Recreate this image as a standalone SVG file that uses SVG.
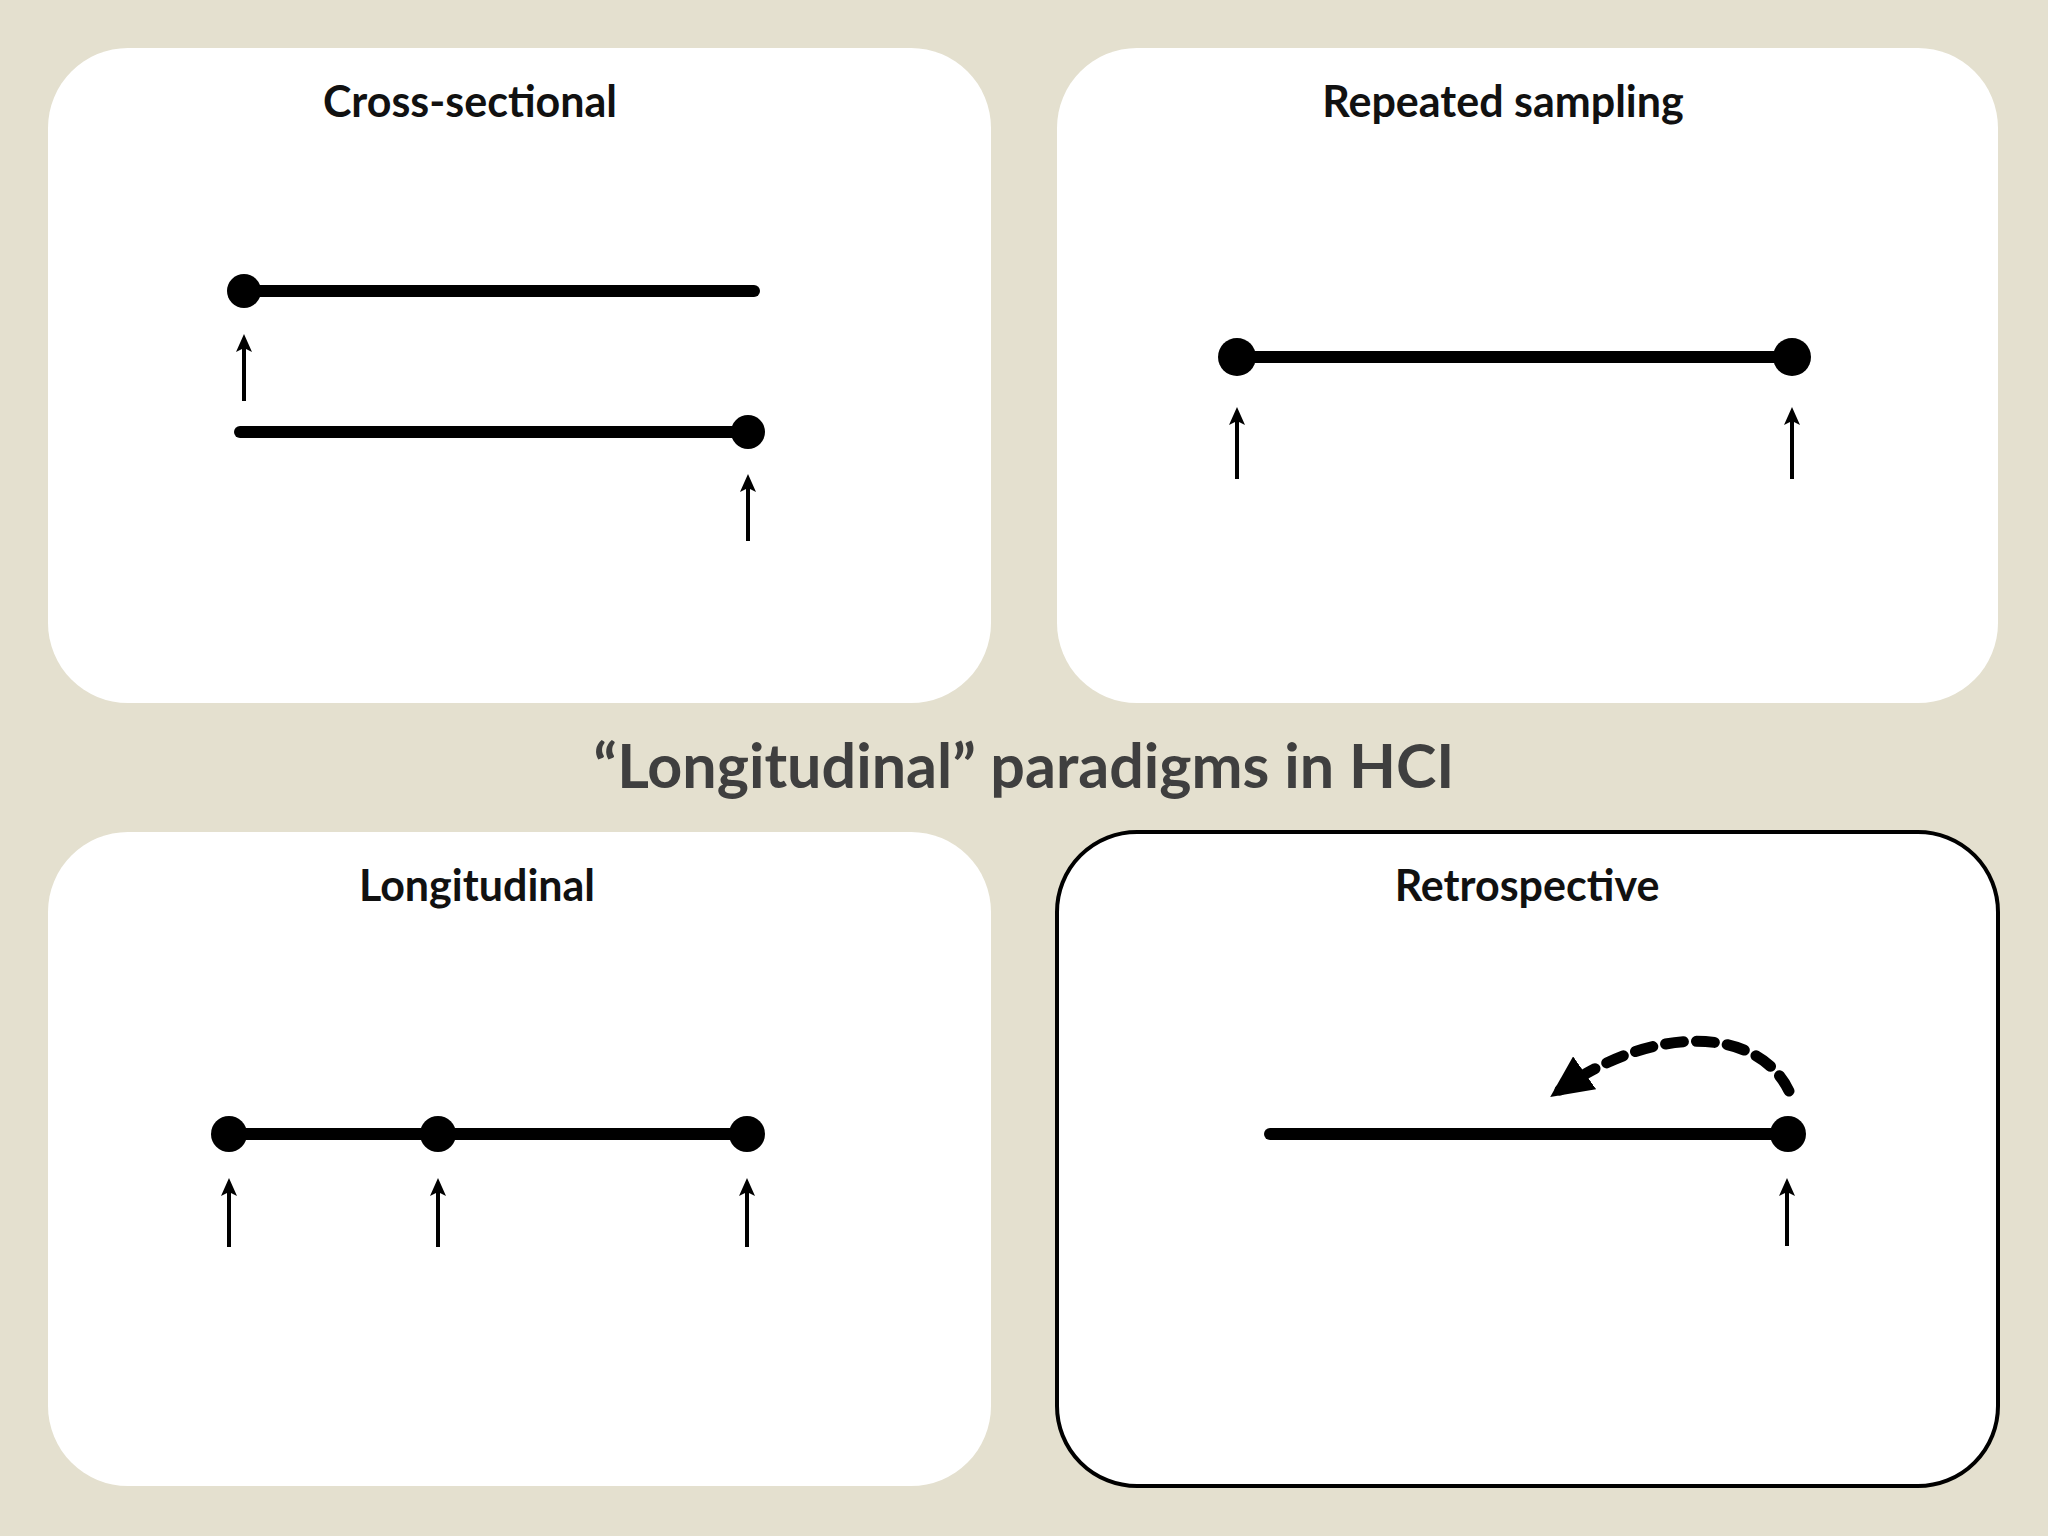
<svg xmlns="http://www.w3.org/2000/svg" width="2048" height="1536" viewBox="0 0 2048 1536">
<style>
.panel{fill:#fff}
.ttl{font-family:Lato,"Open Sans",sans-serif;font-weight:bold;font-size:43px;fill:#111;text-anchor:middle}
.ln{stroke:#000;stroke-width:12;stroke-linecap:round;fill:none}
.ar{stroke:#000;stroke-width:4;fill:none;marker-end:url(#ah)}
.dot{fill:#000}
</style>
<defs>
<marker id="ah" markerWidth="18" markerHeight="16" refX="8" refY="8" orient="auto" markerUnits="userSpaceOnUse" viewBox="0 0 18 16"><path d="M0,0 L18,8 L0,16 L4,8 Z" fill="#000"/></marker>
<marker id="bigah" markerWidth="46" markerHeight="40" refX="30" refY="20" orient="auto" markerUnits="userSpaceOnUse" viewBox="0 0 46 40"><path d="M0,0 L42,20 L0,40 Z" fill="#000"/></marker>
</defs>
<rect width="2048" height="1536" fill="#e4e0cf"/>
<text x="1024" y="788" font-family="Lato,'Open Sans',sans-serif" font-weight="bold" font-size="61" fill="#3f3f3f" text-anchor="middle">“Longitudinal” paradigms in HCI</text>
<g id="cross-sectional">
<rect class="panel" x="48" y="48" width="943" height="655" rx="80"/>
<text class="ttl" x="470" y="117">Cross-sectional</text>
<line class="ln" x1="244" y1="291" x2="754" y2="291"/><circle class="dot" cx="244" cy="291" r="17"/>
<line class="ar" x1="244" y1="401" x2="244" y2="344"/>
<line class="ln" x1="240" y1="432" x2="748" y2="432"/><circle class="dot" cx="748" cy="432" r="17"/>
<line class="ar" x1="748" y1="541" x2="748" y2="484"/>
</g>
<g id="repeated">
<rect class="panel" x="1057" y="48" width="941" height="655" rx="80"/>
<text class="ttl" x="1503" y="117">Repeated sampling</text>
<line class="ln" x1="1237" y1="357" x2="1792" y2="357"/><circle class="dot" cx="1237" cy="357" r="19"/><circle class="dot" cx="1792" cy="357" r="19"/>
<line class="ar" x1="1237" y1="479" x2="1237" y2="417"/>
<line class="ar" x1="1792" y1="479" x2="1792" y2="417"/>
</g>
<g id="longitudinal">
<rect class="panel" x="48" y="832" width="943" height="654" rx="80"/>
<text class="ttl" x="477" y="901">Longitudinal</text>
<line class="ln" x1="229" y1="1134" x2="747" y2="1134"/>
<circle class="dot" cx="229" cy="1134" r="18"/><circle class="dot" cx="438" cy="1134" r="18"/><circle class="dot" cx="747" cy="1134" r="18"/>
<line class="ar" x1="229" y1="1247" x2="229" y2="1188"/>
<line class="ar" x1="438" y1="1247" x2="438" y2="1188"/>
<line class="ar" x1="747" y1="1247" x2="747" y2="1188"/>
</g>
<g id="retrospective">
<rect class="panel" x="1057" y="832" width="941" height="654" rx="80" stroke="#000" stroke-width="4"/>
<text class="ttl" x="1527" y="901">Retrospective</text>
<line class="ln" x1="1270" y1="1134" x2="1788" y2="1134"/><circle class="dot" cx="1788" cy="1134" r="18"/>
<line class="ar" x1="1787" y1="1246" x2="1787" y2="1188"/>
</g>
<g id="connectors">
<path d="M1789,1091 C1760,1030 1660,1020 1560,1090" stroke="#000" stroke-width="11" stroke-dasharray="18 13" fill="none" stroke-linecap="round" marker-end="url(#bigah)"/>
</g>
</svg>
